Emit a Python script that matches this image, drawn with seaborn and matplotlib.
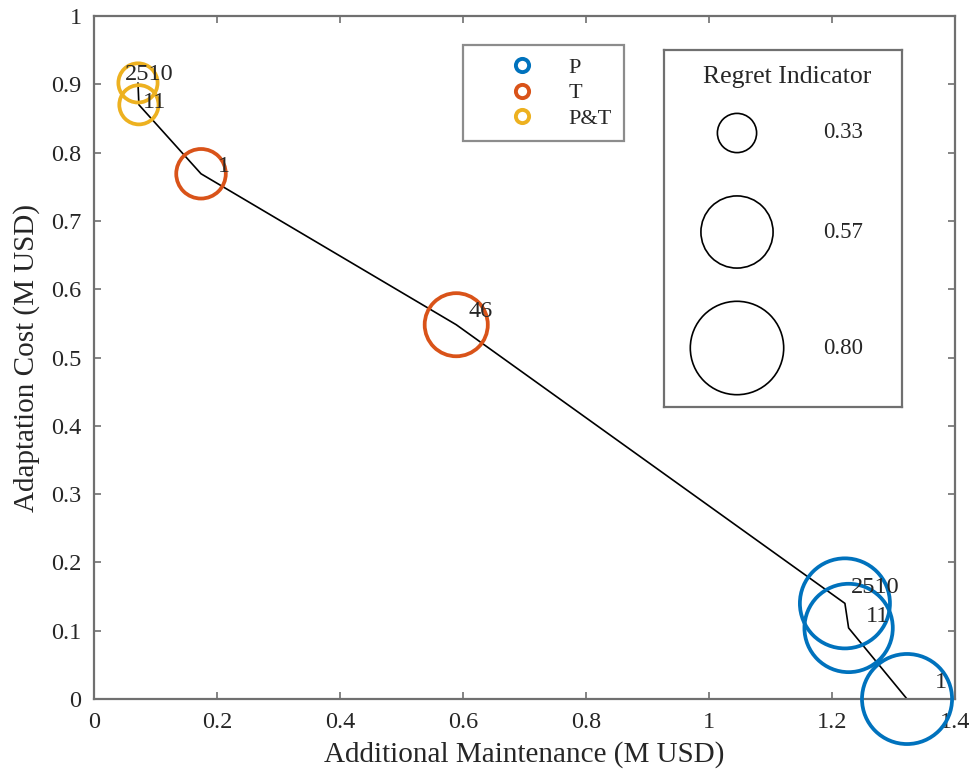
import matplotlib
matplotlib.use("Agg")
import matplotlib.pyplot as plt
from matplotlib.lines import Line2D
import pandas as pd
import seaborn as sns

# Strategy results: maintenance vs. adaptation cost, with regret indicator
maintenance = [0.0715, 0.073, 0.174, 0.589, 1.221, 1.227, 1.322]
adaptation = [0.902, 0.870, 0.769, 0.548, 0.140, 0.104, 0.0]
regret = [0.33, 0.30, 0.39, 0.49, 0.76, 0.74, 0.76]
strategy = ["P&T", "P&T", "T", "T", "P", "P", "P"]
point_labels = ["2510", "11", "1", "46", "2510", "11", "1"]

strategy_order = ["P", "T", "P&T"]
strategy_colors = ["#0072BD", "#D95319", "#EDB120"]
regret_levels = [0.33, 0.57, 0.80]
regret_level_labels = ["0.33", "0.57", "0.80"]

x_ticks = [0, 0.2, 0.4, 0.6, 0.8, 1.0, 1.2, 1.4]
x_tick_labels = ["0", "0.2", "0.4", "0.6", "0.8", "1", "1.2", "1.4"]
y_ticks = [0, 0.1, 0.2, 0.3, 0.4, 0.5, 0.6, 0.7, 0.8, 0.9, 1.0]
y_tick_labels = ["0", "0.1", "0.2", "0.3", "0.4", "0.5", "0.6", "0.7", "0.8", "0.9", "1"]

# label offsets (pixels) from each point
label_offsets = [(-13, 8), (4, 2), (17, 7), (12, 13), (6, 16), (17, 11), (28, 17)]

sns.set_theme(style="ticks")
plt.rcParams["font.family"] = ["Liberation Serif", "DejaVu Serif"]
plt.rcParams["text.color"] = "#262626"
plt.rcParams["axes.labelcolor"] = "#262626"

frame_color = "#707070"
size_range = (797, 4522)   # marker areas (pt^2) for the size norm below
size_norm = (0.33, 0.80)

df = pd.DataFrame({
    "maintenance": maintenance,
    "adaptation": adaptation,
    "regret": regret,
    "strategy": strategy,
})

fig = plt.figure(figsize=(9.76, 7.76), dpi=100)
ax = fig.add_axes([94 / 976, 1 - 699 / 776, (955 - 94) / 976, (699 - 16) / 776])

sns.lineplot(x=maintenance, y=adaptation, sort=False, estimator=None,
             color="black", linewidth=1.2, ax=ax, zorder=2)

sns.scatterplot(data=df, x="maintenance", y="adaptation", hue="strategy",
                hue_order=strategy_order, palette=strategy_colors,
                size="regret", sizes=size_range, size_norm=size_norm,
                legend=False, ax=ax, linewidth=2.7, zorder=3)
pts = ax.collections[-1]
pts.set_edgecolors(pts.get_facecolors())
pts.set_facecolors("none")
pts.set_clip_on(False)

for x, y, lab, (dx, dy) in zip(maintenance, adaptation, point_labels, label_offsets):
    ax.annotate(lab, (x, y), xytext=(dx, dy), textcoords="offset pixels",
                ha="left", va="center", fontsize=17.5, color="#262626", zorder=4)

ax.set_xlim(0, 1.4)
ax.set_ylim(0, 1)
ax.set_xticks(x_ticks)
ax.set_xticklabels(x_tick_labels)
ax.set_yticks(y_ticks)
ax.set_yticklabels(y_tick_labels)
ax.tick_params(direction="in", length=5, width=1.2, color=frame_color,
               top=True, right=True, labelsize=17.5, labelcolor="#262626", pad=9)
for sp in ax.spines.values():
    sp.set_color(frame_color)
    sp.set_linewidth(1.6)
    sp.set_visible(True)

ax.set_xlabel("Additional Maintenance (M USD)", fontsize=21, labelpad=6)
ax.set_ylabel("Adaptation Cost (M USD)", fontsize=21, labelpad=8)

# strategy legend
handles = [Line2D([], [], linestyle="none", marker="o", markersize=9.5,
                  markerfacecolor="none", markeredgecolor=c, markeredgewidth=2.8)
           for c in strategy_colors]
leg = ax.legend(handles, strategy_order, loc="upper left",
                bbox_to_anchor=(463 / 976, 1 - 45 / 776),
                bbox_transform=fig.transFigure, frameon=True, fancybox=False,
                fontsize=16, handlelength=4.2, handletextpad=0.0,
                labelspacing=0.23, borderpad=0.55, borderaxespad=0)
leg.get_frame().set_edgecolor(frame_color)
leg.get_frame().set_linewidth(1.6)
for t in leg.get_texts():
    t.set_color("#262626")

# regret indicator key
kax = fig.add_axes([664 / 976, 1 - 407 / 776, (902 - 664) / 976, (407 - 50) / 776])
kax.set_xlim(0, 238)
kax.set_ylim(357, 0)
kax.set_xticks([])
kax.set_yticks([])
for sp in kax.spines.values():
    sp.set_color(frame_color)
    sp.set_linewidth(1.6)
key_y = [83, 182, 298]
sns.scatterplot(x=[73] * 3, y=key_y, size=regret_levels, sizes=size_range,
                size_norm=size_norm, legend=False, ax=kax, linewidth=1.2)
kpts = kax.collections[-1]
kpts.set_facecolors("none")
kpts.set_edgecolors("black")
kax.text(123, 27, "Regret Indicator", ha="center", va="center", fontsize=18.5,
         color="#262626")
for yy, lab in zip(key_y, regret_level_labels):
    kax.text(159, yy, lab, ha="left", va="center", fontsize=16.5, color="#262626")

fig.savefig("out.png", dpi=100)
